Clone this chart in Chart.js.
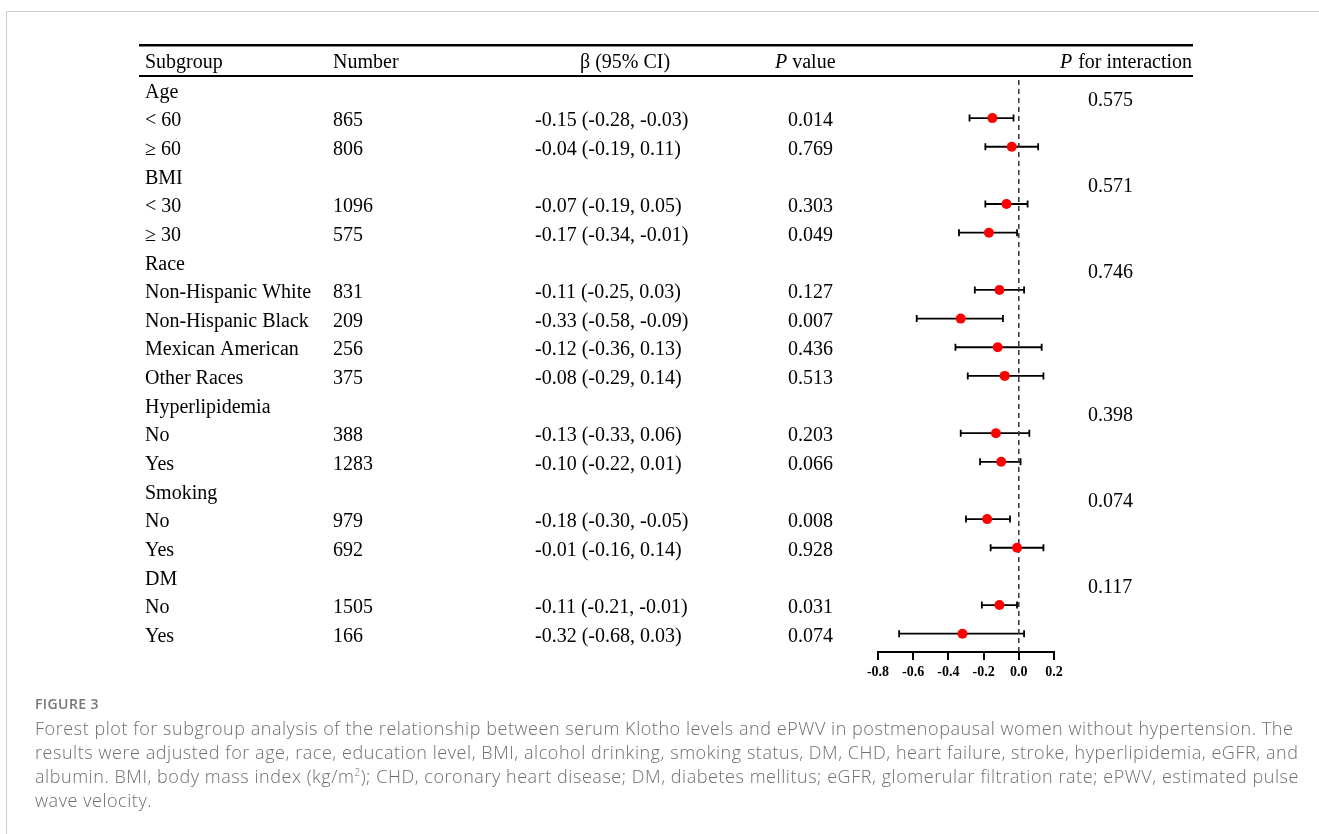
<!DOCTYPE html>
<html>
<head>
<meta charset="utf-8">
<script src="https://cdn.jsdelivr.net/npm/chart.js@4"></script>
<style>
  html, body { margin: 0; padding: 0; background: #fff; }
  body { width: 1319px; height: 834px; position: relative; overflow: hidden; }
  #frame { position: absolute; left: 6px; top: 11px; width: 1313px; height: 823px;
           border-left: 1px solid #cfcfcf; border-top: 1px solid #cfcfcf; }
  #chartBox { position: absolute; left: 0; top: 0; width: 1319px; height: 834px; }
  .cap { position: absolute; left: 35px; font-family: "Open Sans", sans-serif; color: #6e6e6e;
         white-space: nowrap; }
  #figLabel { top: 694px; font-size: 14px; letter-spacing: 0.4px; font-weight: 600; color: #777; }
  #caption { top: 716px; font-size: 18px; line-height: 24px; font-weight: 300; letter-spacing: 0.55px; }
  #caption sup { font-size: 10px; line-height: 0; }
</style>
</head>
<body>
<div id="frame"></div>
<div id="chartBox"><canvas id="forest"></canvas></div>
<div class="cap" id="figLabel">FIGURE 3</div>
<div class="cap" id="caption">
Forest plot for subgroup analysis of the relationship between serum Klotho levels and ePWV in postmenopausal women without hypertension. The<br>
results were adjusted for age, race, education level, BMI, alcohol drinking, smoking status, DM, CHD, heart failure, stroke, hyperlipidemia, eGFR, and<br>
albumin. BMI, body mass index (kg/m<sup>2</sup>); CHD, coronary heart disease; DM, diabetes mellitus; eGFR, glomerular filtration rate; ePWV, estimated pulse<br>
wave velocity.
</div>
<script>
// Table rows
const subgroups = ['Age', '< 60', '≥ 60', 'BMI', '< 30', '≥ 30', 'Race', 'Non-Hispanic White',
  'Non-Hispanic Black', 'Mexican American', 'Other Races', 'Hyperlipidemia', 'No', 'Yes',
  'Smoking', 'No', 'Yes', 'DM', 'No', 'Yes'];
const numbers = ['', '865', '806', '', '1096', '575', '', '831', '209', '256', '375', '',
  '388', '1283', '', '979', '692', '', '1505', '166'];
const beta  = [null, -0.15, -0.04, null, -0.07, -0.17, null, -0.11, -0.33, -0.12, -0.08, null,
  -0.13, -0.10, null, -0.18, -0.01, null, -0.11, -0.32];
const lower = [null, -0.28, -0.19, null, -0.19, -0.34, null, -0.25, -0.58, -0.36, -0.29, null,
  -0.33, -0.22, null, -0.30, -0.16, null, -0.21, -0.68];
const upper = [null, -0.03, 0.11, null, 0.05, -0.01, null, 0.03, -0.09, 0.13, 0.14, null,
  0.06, 0.01, null, -0.05, 0.14, null, -0.01, 0.03];
const pValues = ['', '0.014', '0.769', '', '0.303', '0.049', '', '0.127', '0.007', '0.436', '0.513', '',
  '0.203', '0.066', '', '0.008', '0.928', '', '0.031', '0.074'];
const pInteraction = ['0.575', '', '', '0.571', '', '', '0.746', '', '', '', '', '0.398',
  '', '', '0.074', '', '', '0.117', '', ''];
const xTicks = [-0.8, -0.6, -0.4, -0.2, 0.0, 0.2];

const serif = '"Liberation Serif", "Times New Roman", serif';
const textSize = 20;

const points = beta.map((b, i) => b === null ? null : { x: b, y: i }).filter(p => p);

// whiskers + caps for the CIs
const errorBars = {
  id: 'errorBars',
  beforeDatasetsDraw(chart) {
    const { ctx, scales: { x, y } } = chart;
    ctx.save();
    ctx.strokeStyle = '#000';
    ctx.lineWidth = 1.8;
    beta.forEach((b, i) => {
      if (b === null) return;
      const yy = y.getPixelForValue(i);
      const x0 = x.getPixelForValue(lower[i]);
      const x1 = x.getPixelForValue(upper[i]);
      ctx.beginPath();
      ctx.moveTo(x0, yy); ctx.lineTo(x1, yy);
      ctx.moveTo(x0, yy - 3.5); ctx.lineTo(x0, yy + 3.5);
      ctx.moveTo(x1, yy - 3.5); ctx.lineTo(x1, yy + 3.5);
      ctx.stroke();
    });
    ctx.restore();
  }
};

// table text drawn on the same row scale
const tableText = {
  id: 'tableText',
  afterDraw(chart) {
    const { ctx, scales: { y } } = chart;
    ctx.save();
    ctx.fillStyle = '#000';
    ctx.textBaseline = 'middle';
    ctx.font = textSize + 'px ' + serif;

    // header rules
    ctx.fillRect(139, Math.round(y.getPixelForValue(-1.55)) - 1, 1054, 2.5);
    ctx.fillRect(139, Math.round(y.getPixelForValue(-0.48)) - 1, 1054, 2);

    const hy = y.getPixelForValue(-1) + 2;
    ctx.textAlign = 'left';
    ctx.fillText('Subgroup', 145, hy);
    ctx.fillText('Number', 333, hy);
    ctx.fillText('β (95% CI)', 580, hy);
    ctx.font = 'italic ' + textSize + 'px ' + serif;
    ctx.fillText('P', 775, hy);
    let w = ctx.measureText('P ').width;
    ctx.font = textSize + 'px ' + serif;
    ctx.fillText('value', 775 + w, hy);
    ctx.textAlign = 'right';
    ctx.fillText('for interaction', 1192, hy);
    const wi = ctx.measureText('for interaction').width;
    ctx.font = 'italic ' + textSize + 'px ' + serif;
    ctx.fillText('P', 1192 - wi - 6, hy);
    ctx.font = textSize + 'px ' + serif;
    ctx.textAlign = 'left';

    subgroups.forEach((s, i) => {
      const yy = y.getPixelForValue(i) + 3;
      ctx.fillText(s, 145, yy);
      if (numbers[i]) ctx.fillText(numbers[i], 333, yy);
      if (beta[i] !== null) {
        ctx.fillText(beta[i].toFixed(2) + ' (' + lower[i].toFixed(2) + ', ' + upper[i].toFixed(2) + ')', 535, yy);
      }
      if (pValues[i]) ctx.fillText(pValues[i], 788, yy);
      if (pInteraction[i]) ctx.fillText(pInteraction[i], 1088, yy + 8);
    });
    ctx.restore();
  }
};

const forestChart = new Chart(document.getElementById('forest'), {
  type: 'scatter',
  data: {
    datasets: [
      {
        data: points,
        backgroundColor: '#ff0000',
        borderWidth: 0,
        pointRadius: 5,
        pointHoverRadius: 5
      },
      {
        type: 'line',
        data: [{ x: 0, y: -0.33 }, { x: 0, y: 19.64 }],
        borderColor: '#333',
        borderWidth: 1.5,
        borderDash: [5, 4],
        pointRadius: 0
      }
    ]
  },
  options: {
    responsive: true,
    maintainAspectRatio: false,
    animation: false,
    layout: { padding: { left: 878, right: 265, top: 80, bottom: 142 } },
    plugins: { legend: { display: false }, tooltip: { enabled: false } },
    scales: {
      x: {
        type: 'linear',
        min: -0.8, max: 0.2,
        afterBuildTicks: s => { s.ticks = xTicks.map(v => ({ value: v })); },
        afterFit: s => { s.height = 40; },
        border: { color: '#000', width: 2 },
        grid: { drawOnChartArea: false, drawTicks: true, tickLength: 8, color: '#000', lineWidth: 2 },
        ticks: {
          color: '#000', padding: 4, maxRotation: 0,
          font: { family: serif, size: 14, weight: 'bold' },
          callback: v => v.toFixed(1)
        }
      },
      y: { type: 'linear', display: false, reverse: true, min: -0.33, max: 19.64 }
    }
  },
  plugins: [errorBars, tableText]
});
</script>
</body>
</html>
